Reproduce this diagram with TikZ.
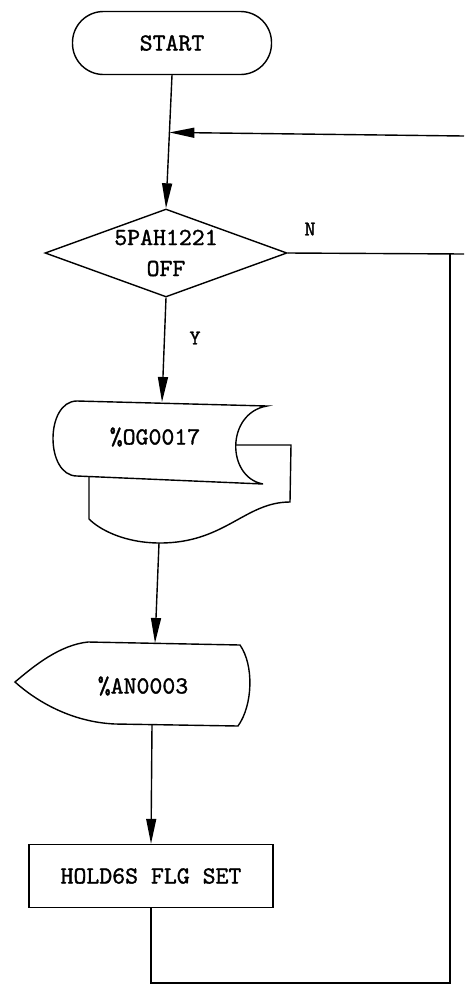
\documentclass[tikz,border=0pt]{standalone}
\usepackage{fontspec}
\newfontfamily\plotfont{lmmono10-regular.otf}[FakeBold=1.3]
\usetikzlibrary{shapes.geometric,arrows.meta,calc}
\begin{document}
\begin{tikzpicture}[x=1pt, y=-1pt, line width=1.4pt,
  every node/.style={font=\plotfont\fontsize{24.6}{31}\selectfont},
  seta/.style={-{Triangle[length=25pt,width=10pt]}},
  rotulo/.style={font=\plotfont\fontsize{21}{24}\selectfont}]
  \useasboundingbox (0,0) rectangle (464,989);
  \node[draw, rounded corners=31pt, minimum width=199pt, minimum height=63pt] (inicio) at (172,43) {START};
  \node[draw, diamond, aspect=2.75, inner sep=0pt, minimum width=242pt, minimum height=88pt, align=center] (teste) at (166,253) {5PAH1221\\OFF};
  \node[rotulo] (nao) at (310,229) {N};
  \node[rotulo] (sim) at (195,338) {Y};
  % saída %OG0017: peça da frente (lado esquerdo convexo, direito côncavo) e a folha de trás
  \draw (77,401) -- (267,406) .. controls (226,413) and (226,477) .. (263,484) -- (77,476)
        .. controls (45,476) and (45,401) .. (77,401) -- cycle;
  \draw (236,445) -- (291,445) -- (290,502) .. controls (245,502) and (225,543) .. (160,543)
        .. controls (125,543) and (100,530) .. (89,519) -- (89,477);
  \node (og) at (155,437) {\%OG0017};
  \coordinate (ogtopo) at (162,402);
  \coordinate (ogbase) at (159,543);
  % ecrã %AN0003
  \draw (88,642) -- (240,645) .. controls (254,665) and (253,705) .. (238,726) -- (115,724)
        .. controls (70,722) and (35,700) .. (15,682) .. controls (35,665) and (60,645) .. (88,642) -- cycle;
  \node (an) at (143,686) {\%AN0003};
  \coordinate (antopo) at (155,643);
  \coordinate (anbase) at (152,725);
  \node[draw, minimum width=244pt, minimum height=63pt] (flag) at (151,876) {HOLD6S FLG SET};
  % ligações
  \coordinate (juncao) at ($(inicio.south)!0.43!(teste.north)$);
  \coordinate (retorno) at (464,136);
  \coordinate (borda) at (464,254);
  \coordinate (canto) at (450,983);
  \draw[seta] (inicio.south) -- (teste.north);
  \draw[seta] (retorno) -- (juncao);
  \draw[seta] (teste.south) -- (ogtopo);
  \draw[seta] (ogbase) -- (antopo);
  \draw[seta] (anbase) -- (flag.north);
  \draw (teste.east) -- (borda);
  \draw (flag.south) |- (canto) -- (canto |- borda);
\end{tikzpicture}
\end{document}
